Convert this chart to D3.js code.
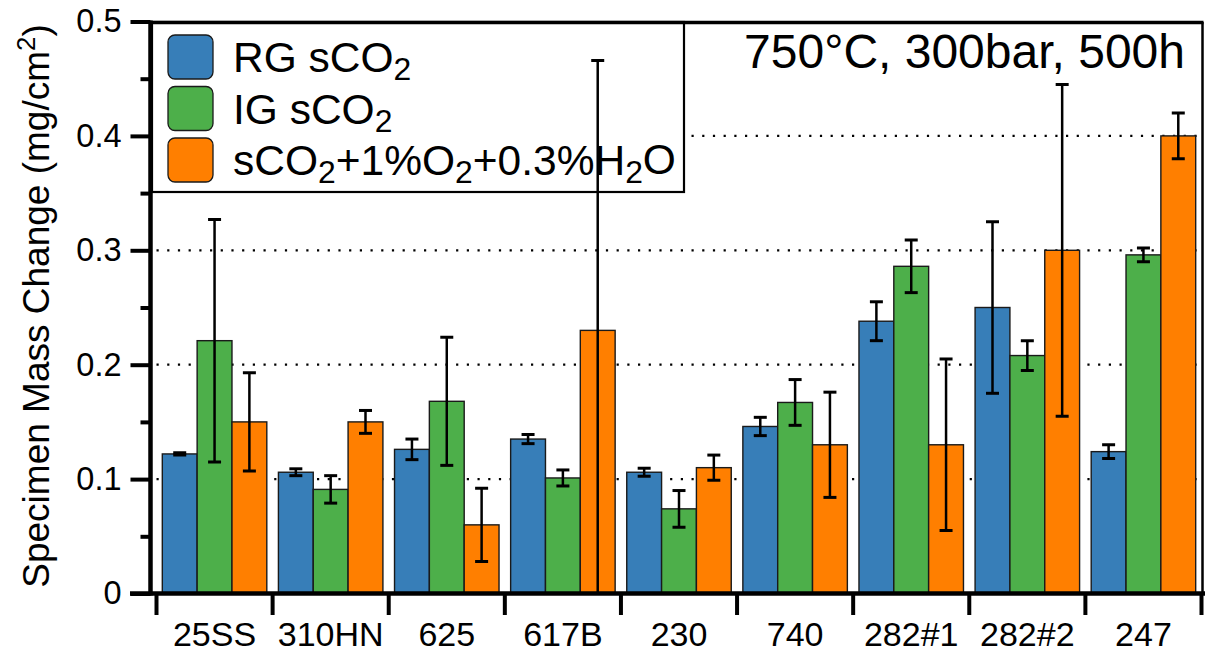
<!DOCTYPE html>
<html>
<head>
<meta charset="utf-8">
<script src="https://cdn.jsdelivr.net/npm/d3@7"></script>
<style>
  body { margin: 0; background: #fff; }
  svg text { font-family: "Liberation Sans", Arial, Helvetica, sans-serif; fill: #000; }
</style>
</head>
<body>
<div id="chart"></div>
<script>
const W = 1206
const H = 652

// data
const categories = ["25SS", "310HN", "625", "617B", "230", "740", "282#1", "282#2", "247"]
const seriesLabels = ["RG sCO_2", "IG sCO_2", "sCO_2+1%O_2+0.3%H_2O"]
const seriesColors = ["#377eb8", "#4daf4a", "#ff7f00"]

const rgMean = [0.122, 0.106, 0.126, 0.135, 0.106, 0.146, 0.238, 0.250, 0.124]
const rgErr  = [0.001, 0.003, 0.009, 0.004, 0.0035, 0.008, 0.017, 0.075, 0.006]
const igMean = [0.221, 0.091, 0.168, 0.101, 0.074, 0.167, 0.286, 0.208, 0.296]
const igErr  = [0.106, 0.012, 0.056, 0.007, 0.016, 0.020, 0.023, 0.013, 0.006]
const wetMean = [0.150, 0.150, 0.060, 0.230, 0.110, 0.130, 0.130, 0.300, 0.400]
const wetErr  = [0.043, 0.010, 0.032, 0.236, 0.011, 0.046, 0.075, 0.145, 0.020]

const yTicks = [0, 0.1, 0.2, 0.3, 0.4, 0.5]
const yMinor = [0.05, 0.15, 0.25, 0.35, 0.45]
const gridVals = [0.1, 0.2, 0.3, 0.4]

const titleText = "750°C, 300bar, 500h"

const means = [rgMean, igMean, wetMean]
const errs = [rgErr, igErr, wetErr]

let rows = []
categories.forEach((c, i) => {
    seriesLabels.forEach((s, j) => {
        rows.push({cat: c, ser: j, v: means[j][i], e: errs[j][i]})
    })
})

const plotLeft = 156.5, plotRight = 1201.5, plotTop = 21.5, plotBottom = 593.5
const axisX = 150.5

const svg = d3.select("#chart").append("svg")
    .attr("width", W).attr("height", H)

const x = d3.scaleBand().domain(categories).range([plotLeft, plotRight])
    .paddingInner(0.1).paddingOuter(0.05)
const xs = d3.scaleBand().domain([0, 1, 2]).range([0, x.bandwidth()])
const y = d3.scaleLinear().domain([0, 0.5]).range([plotBottom, plotTop])

svg.append("defs").append("clipPath").attr("id", "plotclip")
    .append("rect").attr("x", axisX).attr("y", plotTop - 2)
    .attr("width", plotRight - axisX + 2).attr("height", plotBottom - plotTop + 2)

// dotted grid
svg.append("g").selectAll("line").data(gridVals).enter().append("line")
    .attr("x1", axisX + 6).attr("x2", plotRight)
    .attr("y1", d => y(d)).attr("y2", d => y(d))
    .attr("stroke", "#000").attr("stroke-width", 2.2)
    .attr("stroke-dasharray", "2.2 8.5")

// bars
svg.append("g").selectAll("rect").data(rows).enter().append("rect")
    .attr("x", d => x(d.cat) + xs(d.ser))
    .attr("width", xs.bandwidth())
    .attr("y", d => y(d.v))
    .attr("height", d => y(0) - y(d.v))
    .attr("fill", d => seriesColors[d.ser])
    .attr("stroke", "#1a1a1a").attr("stroke-width", 1.4)

// legend
function addLabel(sel, label) {
    let parts = label.split(/_(\d)/)
    parts.forEach((p, k) => {
        if (p.length == 0) return
        if (k % 2 == 1) {
            sel.append("tspan").text(p).attr("font-size", "0.75em").attr("dy", "0.26em")
        } else {
            sel.append("tspan").text(p).attr("dy", k > 0 ? "-0.2em" : 0)
        }
    })
}

const leg = svg.append("g")
leg.append("rect").attr("x", 152).attr("y", 22).attr("width", 532).attr("height", 170)
    .attr("fill", "#fff").attr("stroke", "#000").attr("stroke-width", 2.2)
seriesLabels.forEach((s, j) => {
    let cy = 57 + j * 51.5
    leg.append("rect").attr("x", 168).attr("y", cy - 22).attr("width", 45).attr("height", 44)
        .attr("rx", 7).attr("fill", seriesColors[j]).attr("stroke", "#1a1a1a").attr("stroke-width", 1.3)
    let t = leg.append("text").attr("x", 233).attr("y", cy + 15).attr("font-size", 42.5)
    addLabel(t, s)
})

// error bars
const eb = svg.append("g").attr("clip-path", "url(#plotclip)")
const ebx = d => x(d.cat) + xs(d.ser) + xs.bandwidth() / 2
eb.selectAll("line.v").data(rows).enter().append("line")
    .attr("x1", ebx).attr("x2", ebx)
    .attr("y1", d => y(d.v + d.e)).attr("y2", d => y(d.v - d.e))
    .attr("stroke", "#000").attr("stroke-width", 2.5)
eb.selectAll("line.t").data(rows).enter().append("line")
    .attr("x1", d => ebx(d) - 6.5).attr("x2", d => ebx(d) + 6.5)
    .attr("y1", d => y(d.v + d.e)).attr("y2", d => y(d.v + d.e))
    .attr("stroke", "#000").attr("stroke-width", 3)
eb.selectAll("line.b").data(rows).enter().append("line")
    .attr("x1", d => ebx(d) - 6.5).attr("x2", d => ebx(d) + 6.5)
    .attr("y1", d => y(d.v - d.e)).attr("y2", d => y(d.v - d.e))
    .attr("stroke", "#000").attr("stroke-width", 3)

// frame
svg.append("line").attr("x1", axisX).attr("x2", 1203.5).attr("y1", 22.5).attr("y2", 22.5)
    .attr("stroke", "#000").attr("stroke-width", 3.5)
svg.append("line").attr("x1", 1202.5).attr("x2", 1202.5).attr("y1", 22).attr("y2", plotBottom)
    .attr("stroke", "#000").attr("stroke-width", 2.5)

// y axis
const yAxis = svg.append("g").attr("transform", `translate(${axisX},0)`)
    .call(d3.axisLeft(y).tickValues(yTicks).tickSize(20).tickFormat(d => d == 0 ? "0" : d3.format(".1f")(d)))
yAxis.select(".domain").attr("stroke-width", 4.5).attr("d", `M0,${plotTop - 1}V${plotBottom + 2}`)
yAxis.selectAll(".tick line").attr("stroke-width", 4)
yAxis.selectAll(".tick text").attr("font-size", 32.5).attr("x", -29)
svg.append("g").attr("transform", `translate(${axisX},0)`)
    .call(d3.axisLeft(y).tickValues(yMinor).tickSize(10).tickFormat(""))
    .call(g => g.select(".domain").remove())
    .selectAll(".tick line").attr("stroke-width", 4)

// x axis
svg.append("line").attr("x1", 130).attr("x2", 1205).attr("y1", plotBottom).attr("y2", plotBottom)
    .attr("stroke", "#000").attr("stroke-width", 4.5)
const bounds = categories.map(c => x(c) - x.step() * x.paddingInner() / 2)
bounds.push(plotRight)
svg.append("g").selectAll("line").data(bounds).enter().append("line")
    .attr("x1", d => d).attr("x2", d => d).attr("y1", plotBottom).attr("y2", 615)
    .attr("stroke", "#000").attr("stroke-width", 4)
svg.append("g").selectAll("text").data(categories).enter().append("text")
    .attr("x", d => x(d) + x.bandwidth() / 2).attr("y", 646)
    .attr("text-anchor", "middle").attr("font-size", 34)
    .text(d => d)

// y title
const yt = svg.append("text").attr("transform", "translate(49,306) rotate(-90)")
    .attr("text-anchor", "middle").attr("font-size", 37)
yt.append("tspan").text("Specimen Mass Change (mg/cm")
yt.append("tspan").text("2").attr("font-size", "0.7em").attr("dy", "-0.55em")
yt.append("tspan").text(")").attr("dy", "0.38em")

// condition title
svg.append("text").attr("x", 1185).attr("y", 68).attr("text-anchor", "end")
    .attr("font-size", 48).text(titleText)
</script>
</body>
</html>
